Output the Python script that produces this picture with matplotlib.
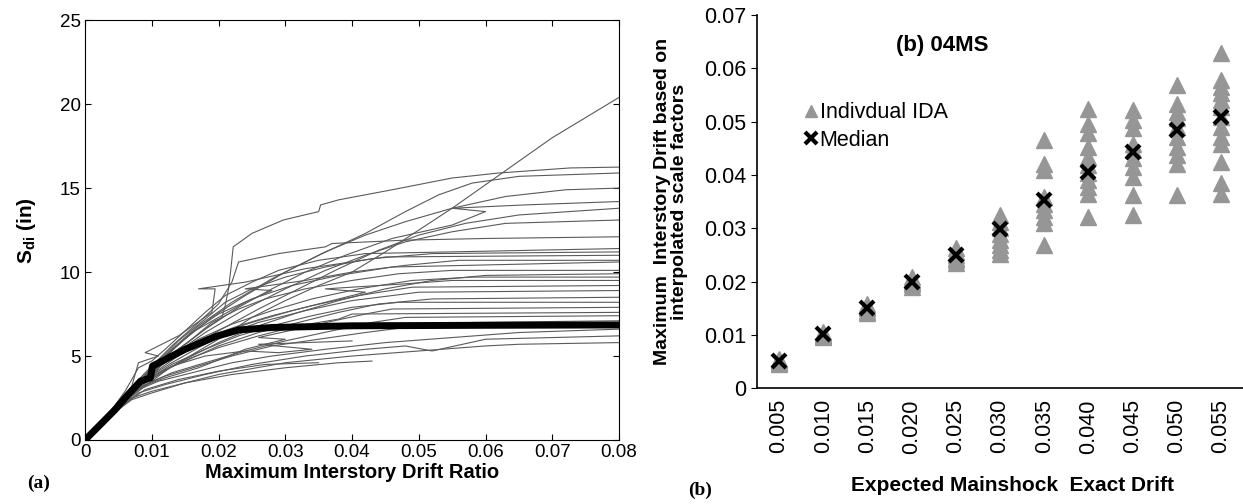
import numpy as np
import matplotlib
matplotlib.use("Agg")
import matplotlib.pyplot as plt
from matplotlib.lines import Line2D

plt.rcParams['font.family'] = ['Liberation Sans', 'DejaVu Sans']
plt.rcParams['mathtext.fontset'] = 'custom'
plt.rcParams['mathtext.rm'] = 'Liberation Sans'
plt.rcParams['mathtext.bf'] = 'Liberation Sans:bold'

# ---- (a) IDA curves: (drift ratio in permil, Sdi in inches) ----
ida_curves = [
    [(0, 0), (4, 1.5), (7, 2.4), (10, 2.8), (15, 3.4), (20, 3.9), (30, 4.6), (40, 5.0), (50, 5.3), (60, 5.6), (65, 5.7), (80, 5.8)],
    [(0, 0), (4, 1.6), (8, 2.8), (12, 3.3), (18, 3.9), (25, 4.5), (33, 5.0), (42, 5.4), (48, 5.6), (52, 5.3), (60, 6.0), (80, 6.2)],
    [(0, 0), (4, 1.6), (8, 3.0), (11, 3.5), (16, 4.0), (22, 4.6), (28, 5.0), (36, 5.4), (45, 5.8), (55, 6.1), (65, 6.4), (80, 6.6)],
    [(0, 0), (4, 1.6), (8, 3.1), (12, 3.8), (17, 4.4), (22, 5.0), (28, 5.6), (35, 6.0), (42, 6.4), (50, 6.8), (58, 7.0), (80, 7.1)],
    [(0, 0), (5, 2.0), (9, 3.3), (13, 4.0), (18, 4.6), (24, 5.3), (30, 5.9), (37, 6.5), (43, 7.0), (48, 7.3), (80, 7.4)],
    [(0, 0), (5, 2.1), (9, 3.5), (12, 4.2), (16, 4.9), (20, 5.5), (26, 6.2), (32, 6.8), (38, 7.2), (40, 7.5), (80, 7.6)],
    [(0, 0), (5, 2.0), (8, 3.1), (12, 3.7), (17, 4.3), (24, 5.4), (30, 6.0), (26, 6.1), (35, 6.9), (42, 7.5), (46, 7.8), (80, 7.9)],
    [(0, 0), (5, 2.1), (9, 3.5), (13, 4.5), (18, 5.4), (23, 6.2), (28, 6.8), (34, 7.4), (40, 7.9), (47, 8.2), (80, 8.2)],
    [(0, 0), (5, 2.2), (8, 3.3), (11, 4.0), (15, 4.7), (20, 5.6), (26, 6.4), (32, 7.0), (38, 7.6), (44, 8.1), (52, 8.4), (80, 8.5)],
    [(0, 0), (5, 2.2), (9, 3.6), (13, 4.6), (17, 5.5), (21, 6.3), (26, 7.0), (33, 7.7), (40, 8.3), (50, 8.8), (80, 8.9)],
    [(0, 0), (5, 2.2), (10, 4.0), (14, 5.2), (18, 6.1), (23, 6.8), (28, 7.4), (34, 8.0), (41, 8.6), (49, 9.1), (80, 9.2)],
    [(0, 0), (5, 2.1), (9, 3.6), (12, 4.8), (15, 5.5), (19, 6.2), (25, 7.0), (31, 7.7), (37, 8.3), (42, 8.8), (36, 9.0), (48, 9.3), (55, 9.5), (80, 9.5)],
    [(0, 0), (5, 2.2), (9, 3.7), (13, 5.0), (17, 6.0), (22, 6.9), (28, 7.7), (34, 8.4), (41, 9.0), (49, 9.5), (58, 9.7), (80, 9.7)],
    [(0, 0), (5, 2.0), (9, 3.4), (14, 4.6), (20, 5.8), (26, 6.8), (32, 7.6), (38, 8.3), (45, 9.0), (52, 9.5), (60, 9.8), (80, 9.9)],
    [(0, 0), (5, 2.2), (8, 3.4), (12, 4.8), (16, 6.0), (19, 7.0), (23, 7.8), (27, 8.4), (33, 9.0), (40, 9.5), (47, 9.9), (55, 10.1), (80, 10.1)],
    [(0, 0), (4, 1.7), (8, 3.4), (11, 4.6), (14, 5.7), (17, 6.7), (20, 7.5), (25, 8.4), (31, 9.2), (38, 9.8), (46, 10.3), (80, 10.6)],
    [(0, 0), (5, 2.2), (9, 3.8), (13, 5.3), (16, 6.4), (20, 7.3), (24, 8.2), (28, 8.9), (24, 9.0), (33, 9.5), (40, 10.0), (48, 10.4), (56, 10.7), (80, 10.7)],
    [(0, 0), (5, 2.2), (10, 4.3), (14, 5.9), (18, 7.2), (21, 8.2), (25, 9.0), (30, 9.7), (36, 10.3), (43, 10.8), (52, 11.1), (80, 11.2)],
    [(0, 0), (4, 1.8), (6, 2.9), (8, 4.3), (10, 4.7), (12, 5.4), (15, 6.5), (18, 7.6), (21, 8.6), (25, 9.4), (29, 10.1), (35, 10.7), (42, 11.1), (80, 11.4)],
    [(0, 0), (5, 2.3), (9, 4.0), (13, 5.6), (17, 7.0), (20, 8.1), (22, 9.4), (23, 10.6), (29, 11.1), (36, 11.5), (37, 11.7), (48, 11.9), (60, 12.0), (80, 12.1)],
    [(0, 0), (5, 2.2), (9, 3.8), (13, 5.0), (18, 6.4), (24, 7.8), (30, 9.0), (36, 10.1), (42, 11.0), (48, 11.8), (55, 12.4), (63, 12.9), (80, 13.1)],
    [(0, 0), (5, 2.1), (10, 3.9), (15, 5.3), (20, 6.5), (26, 7.8), (32, 9.0), (38, 10.2), (44, 11.3), (50, 12.2), (57, 12.9), (65, 13.4), (80, 13.8)],
    [(0, 0), (5, 2.2), (9, 3.8), (13, 5.1), (18, 6.6), (23, 7.9), (28, 9.0), (33, 10.0), (39, 11.0), (46, 12.0), (55, 12.8), (60, 13.6), (55, 13.8), (66, 14.0), (80, 14.2)],
    [(0, 0), (5, 2.2), (10, 4.2), (14, 5.7), (19, 7.3), (24, 8.6), (30, 10.0), (36, 11.2), (42, 12.2), (48, 13.0), (55, 13.8), (63, 14.5), (72, 14.9), (80, 15.0)],
    [(0, 0), (5, 2.2), (9, 3.9), (13, 5.4), (17, 6.8), (22, 8.2), (28, 9.6), (35, 11.0), (42, 12.3), (48, 13.6), (53, 14.6), (58, 15.3), (65, 15.7), (80, 15.9)],
    [(0, 0), (3, 1.2), (6, 2.5), (8, 3.2), (10, 3.8), (12.5, 5.0), (15, 5.7), (18, 6.6), (20.5, 7.3), (21, 8.0), (21.5, 9.0), (21.8, 10.0),
     (22.2, 11.5), (25, 12.3), (29.7, 13.1), (35, 13.6), (35.3, 14.0), (38, 14.3), (46, 14.9), (55, 15.6), (62, 15.9), (72.7, 16.2), (80, 16.25)],
    [(0, 0), (5, 2.1), (9, 3.4), (14, 4.6), (20, 6.0), (25, 7.3), (30, 8.3), (35, 9.2), (40, 10.0), (45, 11.2), (50, 12.5), (55, 13.8),
     (62.5, 15.9), (70, 18.0), (80, 20.4)],
    [(0, 0), (4, 1.6), (7, 2.5), (10, 2.9), (15, 3.4), (22, 3.9), (30, 4.3), (38, 4.6), (43, 4.7)],
    [(0, 0), (5, 1.9), (9, 3.0), (14, 3.6), (20, 4.1), (27, 4.5), (35, 4.6)],
    [(0, 0), (5, 2.0), (10, 3.5), (13, 4.4), (18, 5.0), (24, 5.3), (29, 5.2), (34, 5.4), (26, 5.7), (40, 5.9)],
    [(0, 0), (4, 1.8), (7, 3.2), (8, 4.6), (11, 5.0), (9, 5.2), (14, 6.2), (19, 7.6), (19.5, 9.0), (17, 9.0), (24, 9.4), (33, 10.2), (45, 10.9), (80, 11.0)],
]

# median curve
median_drift = [0, 2, 4.5, 6, 8.3, 9.8, 10.1, 15, 19.5, 23, 28, 40, 60, 80]
median_sdi = [0, 0.8, 1.8, 2.5, 3.5, 3.7, 4.4, 5.4, 6.15, 6.55, 6.7, 6.8, 6.83, 6.85]

# ---- (b) 04MS ----
expected_drift = ['0.005', '0.010', '0.015', '0.020', '0.025', '0.030',
                  '0.035', '0.040', '0.045', '0.050', '0.055']
individual_ida = [
    [0.0045, 0.0048, 0.0050, 0.0052, 0.0055],
    [0.0095, 0.0098, 0.0100, 0.0102, 0.0105],
    [0.0140, 0.0145, 0.0150, 0.0153, 0.0158],
    [0.0190, 0.0195, 0.0200, 0.0203, 0.0208],
    [0.0234, 0.0240, 0.0245, 0.0250, 0.0255, 0.0262],
    [0.0252, 0.0260, 0.0268, 0.0278, 0.0290, 0.0300, 0.0312, 0.0324],
    [0.0268, 0.0309, 0.0321, 0.0334, 0.0346, 0.0359, 0.0409, 0.0421, 0.0466],
    [0.0321, 0.0365, 0.0377, 0.0390, 0.0403, 0.0418, 0.0434, 0.0453, 0.0478, 0.0496, 0.0524],
    [0.0324, 0.0362, 0.0396, 0.0415, 0.0431, 0.0446, 0.0459, 0.0489, 0.0503, 0.0521],
    [0.0362, 0.0421, 0.0437, 0.0452, 0.0471, 0.0490, 0.0506, 0.0518, 0.0534, 0.0568],
    [0.0365, 0.0384, 0.0424, 0.0459, 0.0471, 0.0490, 0.0509, 0.0527, 0.0540, 0.0553, 0.0565, 0.0578, 0.0628],
]
median_drift_b = [0.0050, 0.0101, 0.0151, 0.0200, 0.0250, 0.0298, 0.0353, 0.0406, 0.0443, 0.0484, 0.0509]

fig = plt.figure(figsize=(12.43, 5.04), dpi=100)

# ---------- panel (a) ----------
ax1 = fig.add_axes([0.0684, 0.127, 0.4296, 0.833])
for curve in ida_curves:
    xs = np.array([p[0] for p in curve]) / 1000.0
    ys = [p[1] for p in curve]
    ax1.plot(xs, ys, color='#5a5a5a', lw=0.8)
ax1.plot(np.array(median_drift) / 1000.0, median_sdi, color='black', lw=5, solid_capstyle='butt')
ax1.set_xlim(0, 0.08)
ax1.set_ylim(0, 25)
ax1.set_xticks(np.arange(0, 0.081, 0.01))
ax1.set_xticklabels(['0', '0.01', '0.02', '0.03', '0.04', '0.05', '0.06', '0.07', '0.08'])
ax1.set_yticks([0, 5, 10, 15, 20, 25])
ax1.tick_params(direction='in', top=True, right=True, labelsize=13.5, length=4, pad=3)
ax1.set_xlabel('Maximum Interstory Drift Ratio', fontsize=14.5, fontweight='bold', labelpad=1)
ax1.set_ylabel(r'$\mathbf{S_{di}}$ (in)', fontsize=15, fontweight='bold', labelpad=16)

# ---------- panel (b) ----------
ax2 = fig.add_axes([0.609, 0.230, 0.391, 0.740])
pos = np.arange(len(expected_drift))
for i, vals in enumerate(individual_ida):
    ax2.plot([pos[i]] * len(vals), vals, linestyle='none', marker='^', ms=11,
             color='#969696', mec='#969696')
ax2.plot(pos, median_drift_b, linestyle='none', marker='x', ms=10, mew=3, color='black')
ax2.set_xlim(-0.5, 10.5)
ax2.set_ylim(0, 0.07)
ax2.set_yticks(np.arange(0, 0.071, 0.01))
ax2.set_yticklabels(['0', '0.01', '0.02', '0.03', '0.04', '0.05', '0.06', '0.07'])
ax2.set_xticks(pos)
ax2.set_xticklabels(expected_drift, rotation=90)
ax2.tick_params(axis='y', direction='out', length=4, labelsize=15.5)
ax2.tick_params(axis='x', length=0, labelsize=15.5, pad=8)
ax2.spines['top'].set_visible(False)
ax2.spines['right'].set_visible(False)
ax2.spines['left'].set_linewidth(1.2)
ax2.spines['bottom'].set_linewidth(1.2)
ax2.set_ylabel('Maximum  Interstory Drift based on\ninterpolated scale factors',
               fontsize=14, fontweight='bold', labelpad=12, linespacing=1.0)
ax2.set_xlabel('Expected Mainshock  Exact Drift', fontsize=15, fontweight='bold', labelpad=16)
ax2.xaxis.label.set_x(0.525)
ax2.text(3.7, 0.0643, '(b) 04MS', fontsize=16, fontweight='bold', ha='center', va='center')

handles = [Line2D([], [], linestyle='none', marker='^', ms=9, color='#969696'),
           Line2D([], [], linestyle='none', marker='x', ms=8, mew=3, color='black')]
ax2.legend(handles, ['Indivdual IDA', 'Median'], loc='upper left', bbox_to_anchor=(0.08, 0.79),
           frameon=False, fontsize=15.5, handlelength=0.6, handletextpad=0.1,
           labelspacing=0.3, borderaxespad=0)

fig.text(0.031, 0.040, '(a)', fontsize=14, fontweight='bold', family='Liberation Serif', ha='center', va='center')
fig.text(0.563, 0.028, '(b)', fontsize=14, fontweight='bold', family='Liberation Serif', ha='center', va='center')

fig.savefig('out.png', dpi=100)
